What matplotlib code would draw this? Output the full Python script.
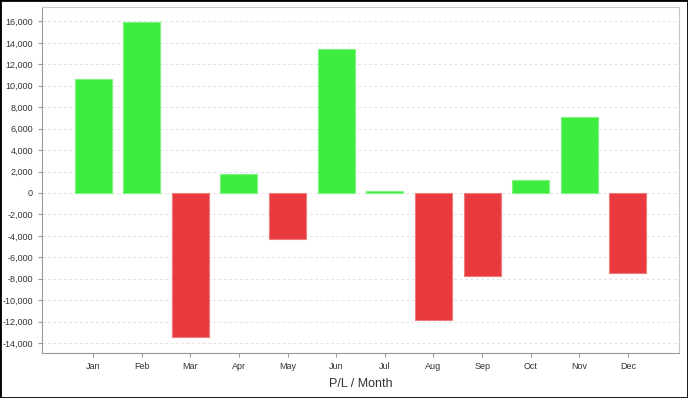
import matplotlib
matplotlib.use('Agg')
import matplotlib.pyplot as plt
from matplotlib.patches import Rectangle
from matplotlib.ticker import FuncFormatter, MultipleLocator

months = ['Jan', 'Feb', 'Mar', 'Apr', 'May', 'Jun', 'Jul', 'Aug', 'Sep', 'Oct', 'Nov', 'Dec']
pl = [10650, 15950, -13400, 1800, -4280, 13440, 180, -11850, -7750, 1240, 7100, -7480]

green = '#3ded3d'
red = '#e83a3d'

plt.rcParams['font.family'] = ['Liberation Sans', 'DejaVu Sans']

fig = plt.figure(figsize=(6.88, 3.98), dpi=100)
ax = fig.add_axes([42/688, 45/398, 637/688, 346/398])

colors = [green if v >= 0 else red for v in pl]
edges = ['#7ff47f' if v >= 0 else '#f07a7c' for v in pl]
ax.bar(range(len(months)), pl, width=0.76, color=colors, edgecolor=edges, linewidth=0.8, zorder=3)

ax.set_xlim(-1.05, 12.05)
ax.set_ylim(-14930, 17350)
ax.yaxis.set_major_locator(MultipleLocator(2000))
ax.yaxis.set_major_formatter(FuncFormatter(lambda v, p: '{:,.0f}'.format(v)))
ax.set_xticks(range(len(months)))
ax.set_xticklabels(months)
ax.grid(axis='y', color='#e2e2e2', linestyle=(0, (3, 2.5)), linewidth=0.7, zorder=0)

for s in ['left', 'bottom']:
    ax.spines[s].set_color('#999999')
for s in ['top', 'right']:
    ax.spines[s].set_color('#c8c8c8')
ax.tick_params(axis='both', labelsize=6.5, colors='#999999', labelcolor='#333333', length=3, width=0.8)
ax.set_xlabel('P/L / Month', fontsize=9, color='#333333', labelpad=5)

fig.patches.append(Rectangle((0, 0), 1, 1, transform=fig.transFigure, fill=False,
                             edgecolor='black', linewidth=2))

fig.savefig('out.png', dpi=100)
